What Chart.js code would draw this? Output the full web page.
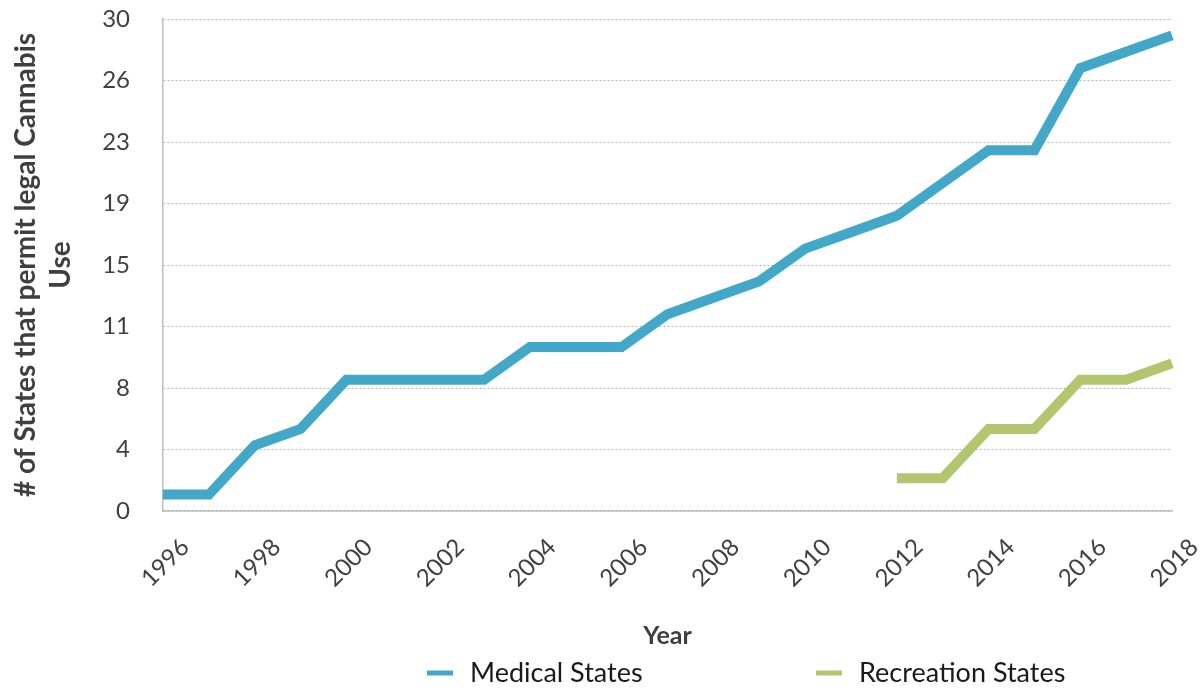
<!DOCTYPE html>
<html>
<head>
<meta charset="utf-8">
<script src="https://cdn.jsdelivr.net/npm/chart.js@4"></script>
<style>
html,body{margin:0;padding:0;background:#ffffff;}
#wrap{width:1203px;height:690px;}
</style>
</head>
<body>
<div id="wrap"><canvas id="c" width="1203" height="690"></canvas></div>
<script>
// ---- data ----
const years = ['1996','1997','1998','1999','2000','2001','2002','2003','2004','2005','2006','2007','2008','2009','2010','2011','2012','2013','2014','2015','2016','2017','2018'];
const medicalStates = [1,1,4,5,8,8,8,8,10,10,10,12,13,14,16,17,18,20,22,22,27,28,29];
const recreationStates = [null,null,null,null,null,null,null,null,null,null,null,null,null,null,null,null,2,2,5,5,8,8,9];
const seriesNames = ['Medical States','Recreation States'];
const xTickLabels = ['1996','1998','2000','2002','2004','2006','2008','2010','2012','2014','2016','2018'];
const yTickLabels = ['0','4','8','11','15','19','23','26','30'];
const yTitle = ['# of States that permit legal Cannabis','Use'];
const xTitle = 'Year';

const FONT = 'Lato';
const medColor = '#43a8c7';
const recColor = '#b3c66f';

const customLegend = {
  id: 'customLegend',
  afterDraw(chart) {
    const ctx = chart.ctx;
    const y = 673;
    const slots = [427, 816];
    chart.data.datasets.forEach((ds, i) => {
      const x = slots[i];
      ctx.save();
      ctx.fillStyle = ds.borderColor;
      ctx.fillRect(x, y - 2.5, 26, 5);
      ctx.font = '27px ' + FONT;
      ctx.fillStyle = '#1a1a1a';
      ctx.textBaseline = 'middle';
      ctx.textAlign = 'left';
      ctx.fillText(ds.label, x + 43, y);
      ctx.restore();
    });
  }
};

new Chart(document.getElementById('c'), {
  type: 'line',
  data: {
    labels: years,
    datasets: [
      {label: seriesNames[0], data: medicalStates, borderColor: medColor, backgroundColor: medColor,
       borderWidth: 10, pointRadius: 0, tension: 0, borderCapStyle: 'butt', borderJoinStyle: 'miter', fill: false},
      {label: seriesNames[1], data: recreationStates, borderColor: recColor, backgroundColor: recColor,
       borderWidth: 10, pointRadius: 0, tension: 0, borderCapStyle: 'butt', borderJoinStyle: 'miter', fill: false, spanGaps: false}
    ]
  },
  options: {
    responsive: false,
    animation: false,
    devicePixelRatio: 1,
    layout: {padding: {top: 19, right: 31, bottom: 35, left: 0}},
    plugins: {legend: {display: false}, tooltip: {enabled: false}},
    scales: {
      x: {
        type: 'category',
        offset: false,
        grid: {display: true, drawOnChartArea: false, drawTicks: false},
        border: {display: true, color: '#bfbfbf', width: 1.5},
        ticks: {
          autoSkip: false, maxRotation: 45, minRotation: 45, padding: 22, labelOffset: 22,
          color: '#404040', font: {family: FONT, size: 24},
          callback: function(v, i) { const l = years[i]; return xTickLabels.includes(l) ? l : ''; }
        },
        title: {display: true, text: xTitle, color: '#3f3f3f', font: {family: FONT, size: 25, weight: 'bold'}, padding: {top: 0, bottom: 4}},
        afterFit: function(s) { s.height = 144; s.paddingLeft = 0; s.paddingRight = 0; }
      },
      y: {
        min: 0, max: 30,
        grid: {color: '#b5b5b5', lineWidth: 1, drawTicks: false},
        border: {display: true, color: '#bfbfbf', width: 1.5, dash: [2, 2]},
        ticks: {
          stepSize: 3.75, padding: 33, color: '#404040', font: {family: FONT, size: 24},
          callback: function(v, i) { return yTickLabels[i]; }
        },
        title: {display: true, text: yTitle, color: '#3f3f3f', font: {family: FONT, size: 28, weight: 'bold', lineHeight: 1.25}, padding: {top: 8, bottom: 0}},
        afterFit: function(s) { s.width = 163; s.paddingTop = 0; s.paddingBottom = 0; }
      }
    }
  },
  plugins: [customLegend]
});
</script>
</body>
</html>
